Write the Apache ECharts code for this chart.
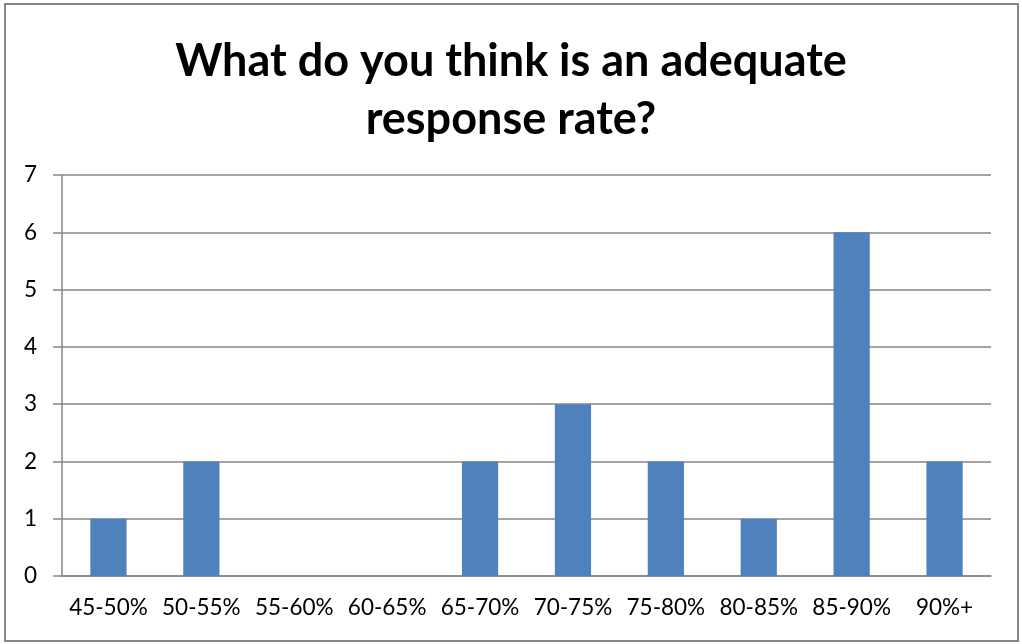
<!DOCTYPE html>
<html>
<head>
<meta charset="utf-8">
<script src="https://cdn.jsdelivr.net/npm/echarts@6/dist/echarts.min.js"></script>
<style>
  html, body { margin: 0; padding: 0; background: #fff; }
  #chart { width: 1022px; height: 644px; }
</style>
</head>
<body>
<div id="chart"></div>
<script>
// chart data
const categories = ['45-50%', '50-55%', '55-60%', '60-65%', '65-70%', '70-75%', '75-80%', '80-85%', '85-90%', '90%+'];
const counts = [1, 2, 0, 0, 2, 3, 2, 1, 6, 2];
const titleText = 'What do you think is an adequate\nresponse rate?';

const axisGray = '#868686';
const font = 'Lato, "Open Sans", sans-serif';

var myChart = echarts.init(document.getElementById('chart'));
var option = {
  animation: false,
  title: {
    text: titleText,
    left: 'center',
    top: 27,
    textStyle: {
      fontFamily: font,
      fontWeight: 'bold',
      fontSize: 45,
      lineHeight: 58,
      color: '#000'
    }
  },
  graphic: [{
    type: 'rect',
    shape: { x: 5, y: 4, width: 1013, height: 637 },
    style: { fill: 'none', stroke: axisGray, lineWidth: 2 },
    silent: true
  }],
  grid: { left: 62, right: 31, top: 175, bottom: 68 },
  xAxis: {
    type: 'category',
    data: categories,
    axisLine: { lineStyle: { color: axisGray, width: 1.5 } },
    axisTick: { length: 8, lineStyle: { color: axisGray, width: 1.5 } },
    axisLabel: { color: '#000', fontSize: 22.5, fontFamily: font, margin: 20, interval: 0 }
  },
  yAxis: {
    type: 'value',
    min: 0,
    max: 7,
    interval: 1,
    axisLine: { show: true, lineStyle: { color: axisGray, width: 1.5 } },
    axisTick: { show: true, length: 9, lineStyle: { color: axisGray, width: 1.5 } },
    axisLabel: { color: '#000', fontSize: 22.5, fontFamily: font, margin: 25 },
    splitLine: { lineStyle: { color: axisGray, width: 1.5 } }
  },
  series: [{
    type: 'bar',
    data: counts,
    barWidth: '39%',
    itemStyle: { color: '#4F81BD' }
  }]
};
option && myChart.setOption(option);
</script>
</body>
</html>
